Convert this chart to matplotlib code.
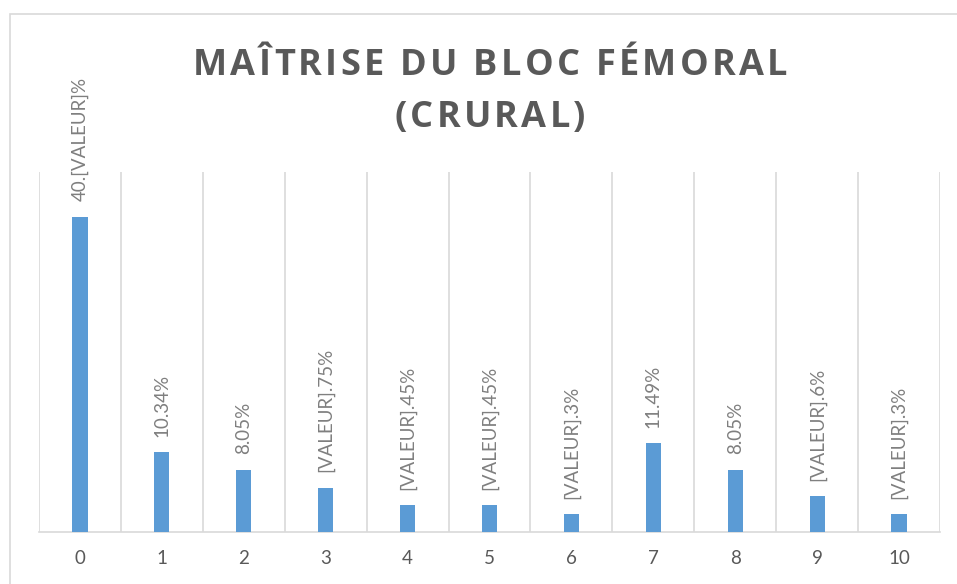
import matplotlib.pyplot as plt
from matplotlib.patches import Rectangle
import numpy as np

categories = ["0", "1", "2", "3", "4", "5", "6", "7", "8", "9", "10"]
values = [40.8, 10.34, 8.05, 5.75, 3.45, 3.45, 2.3, 11.49, 8.05, 4.6, 2.3]
labels = ["40.[VALEUR]%", "10.34%", "8.05%", "[VALEUR].75%", "[VALEUR].45%",
          "[VALEUR].45%", "[VALEUR].3%", "11.49%", "8.05%", "[VALEUR].6%",
          "[VALEUR].3%"]
title_lines = ["MAÎTRISE DU BLOC FÉMORAL", "(CRURAL)"]

W, H = 957, 584
fig = plt.figure(figsize=(W / 100, H / 100), dpi=100)
fig.patch.set_facecolor("white")

# chart frame
fig.patches.append(Rectangle((10 / W, -0.1), 1.2, 1 - 14 / H + 0.1,
                             transform=fig.transFigure, fill=False,
                             edgecolor="#d9d9d9", linewidth=1.2))

ax = fig.add_axes([39 / W, (H - 532) / H, (940 - 39) / W, (532 - 172) / H])
x = np.arange(len(categories))
ax.bar(x, values, width=0.185, color="#5b9bd5", zorder=3)

for k in range(len(categories) + 1):
    ax.axvline(k - 0.5, color="#d9d9d9", linewidth=1.2, zorder=1)

for xi, v, lab in zip(x, values, labels):
    ax.text(xi, v + 2.0, lab, rotation=90, ha="center", va="bottom",
            fontsize=13.5, color="#7f7f7f", family="Lato")

ax.set_xlim(-0.5, len(categories) - 0.5)
ax.set_ylim(0, 46.6)
ax.set_yticks([])
ax.set_xticks(x)
ax.set_xticklabels(categories, fontsize=13.5, color="#595959", family="Lato")
ax.tick_params(axis="x", length=0, pad=13)
for s in ["top", "right", "left"]:
    ax.spines[s].set_visible(False)
ax.spines["bottom"].set_color("#d9d9d9")
ax.spines["bottom"].set_linewidth(1.2)


def spaced_text(line, cx, base_y, tracking, **kw):
    # draw a line char by char with extra letter spacing, centred on cx (pixels)
    renderer = fig.canvas.get_renderer()
    widths = []
    for ch in line:
        t = fig.text(0, 0, ch, **kw)
        widths.append(t.get_window_extent(renderer).width if ch != " " else None)
        t.remove()
    sp = fig.text(0, 0, "a a", **kw)
    sp2 = fig.text(0, 0, "aa", **kw)
    space_w = sp.get_window_extent(renderer).width - sp2.get_window_extent(renderer).width
    sp.remove()
    sp2.remove()
    widths = [w if w is not None else space_w for w in widths]
    total = sum(widths) + tracking * (len(line) - 1)
    px = cx - total / 2
    for ch, w in zip(line, widths):
        if ch != " ":
            fig.text(px / W, 1 - base_y / H, ch, ha="left", va="baseline", **kw)
        px += w + tracking


title_kw = dict(fontsize=26, fontweight="bold", color="#595959", family="Open Sans")
spaced_text(title_lines[0], 490, 75, 3.3, **title_kw)
spaced_text(title_lines[1], 490, 127, 3.3, **title_kw)

fig.savefig("out.png", dpi=100)
